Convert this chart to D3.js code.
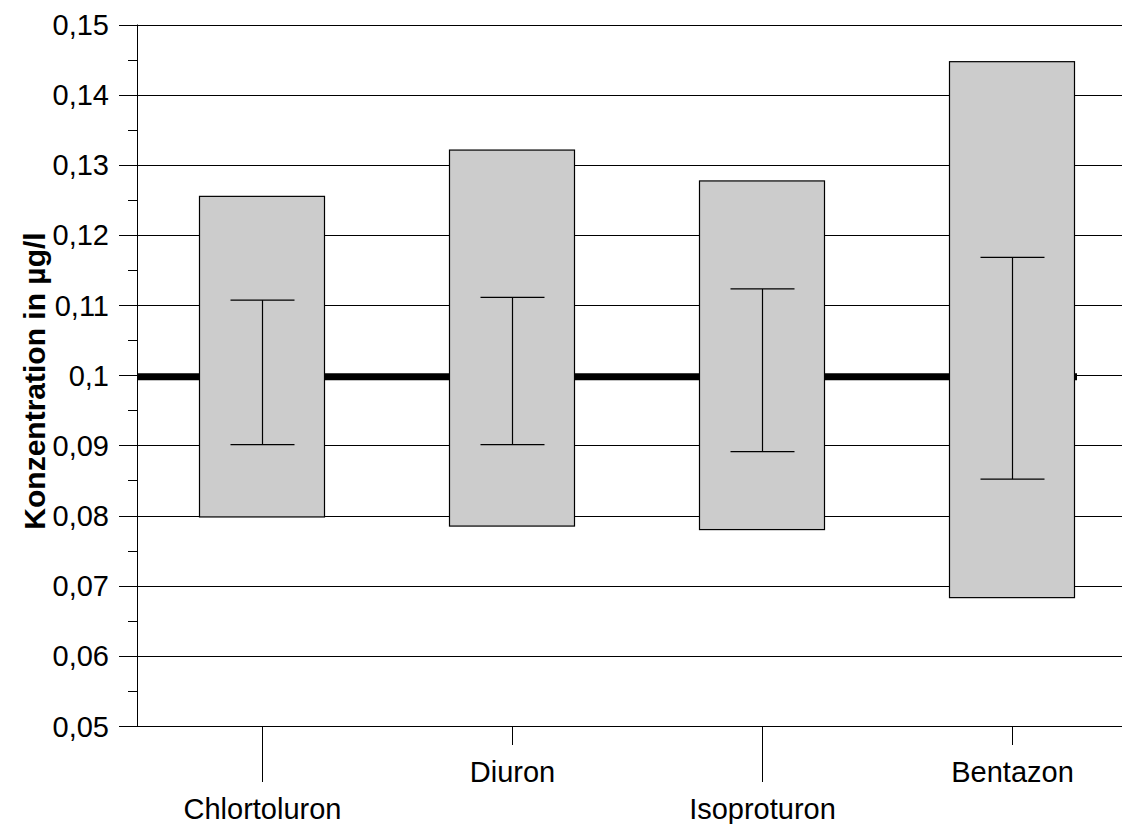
<!DOCTYPE html>
<html>
<head>
<meta charset="utf-8">
<script src="https://cdn.jsdelivr.net/npm/d3@7"></script>
<style>
  html, body { margin: 0; padding: 0; background: #fff; overflow: hidden; }
  svg { display: block; font-family: "Liberation Sans", Arial, sans-serif; }
</style>
</head>
<body>
<svg width="1122" height="824"></svg>
<script>
// Data
const categories = ["Chlortoluron", "Diuron", "Isoproturon", "Bentazon"];
const boxMax = [0.1255, 0.1321, 0.1277, 0.1447];
const boxMin = [0.0798, 0.0785, 0.0780, 0.0683];
const whiskerHigh = [0.1107, 0.1111, 0.1123, 0.1168];
const whiskerLow = [0.0901, 0.0901, 0.0891, 0.0852];
const limitValue = 0.1;
const limitSpan = [-0.5, 3.26]; // in category index units
const yTicks = [0.05, 0.06, 0.07, 0.08, 0.09, 0.1, 0.11, 0.12, 0.13, 0.14, 0.15];
const yMinorTicks = [0.055, 0.065, 0.075, 0.085, 0.095, 0.105, 0.115, 0.125, 0.135, 0.145];
const yLabel = "Konzentration in µg/l";

const svg = d3.select("svg");
const plotLeft = 137, plotRight = 1137, plotTop = 24.5, plotBottom = 726;

const de = d3.formatLocale({ decimal: ",", thousands: ".", grouping: [3], currency: ["", " €"] });
const fmt = de.format("~g");

const x = d3.scaleBand().domain(categories).range([plotLeft, plotRight]).padding(0);
const xi = d3.scaleLinear().domain([-0.5, categories.length - 0.5]).range([plotLeft, plotRight]);
const y = d3.scaleLinear().domain([0.05, 0.15]).range([plotBottom, plotTop]);

const rows = categories.map((c, i) => ({
    cat: c, i, max: boxMax[i], min: boxMin[i], hi: whiskerHigh[i], lo: whiskerLow[i]
}));

// grid lines
svg.append("g")
    .selectAll("line")
    .data(yTicks).enter().append("line")
    .attr("x1", plotLeft - 18).attr("x2", plotRight)
    .attr("y1", d => Math.round(y(d)) + 0.5).attr("y2", d => Math.round(y(d)) + 0.5)
    .attr("stroke", "#000").attr("stroke-width", 1);

// minor ticks
svg.append("g")
    .selectAll("line")
    .data(yMinorTicks).enter().append("line")
    .attr("x1", plotLeft - 9).attr("x2", plotLeft)
    .attr("y1", d => Math.round(y(d)) + 0.5).attr("y2", d => Math.round(y(d)) + 0.5)
    .attr("stroke", "#000").attr("stroke-width", 1);

// y axis line
svg.append("line")
    .attr("x1", plotLeft + 0.5).attr("x2", plotLeft + 0.5)
    .attr("y1", y(0.15)).attr("y2", y(0.05))
    .attr("stroke", "#000").attr("stroke-width", 1);

// y tick labels
svg.append("g")
    .selectAll("text")
    .data(yTicks).enter().append("text")
    .attr("x", 109)
    .attr("y", d => y(d) + 10.5)
    .attr("text-anchor", "end")
    .style("font-size", "29px")
    .text(d => fmt(d));

// y label
svg.append("text")
    .attr("transform", `translate(45, 381) rotate(-90)`)
    .attr("text-anchor", "middle")
    .style("font-size", "30px")
    .style("font-weight", "bold")
    .text(yLabel);

// limit line
svg.append("line")
    .attr("x1", xi(limitSpan[0])).attr("x2", xi(limitSpan[1]))
    .attr("y1", y(limitValue) + 1.5).attr("y2", y(limitValue) + 1.5)
    .attr("stroke", "#000").attr("stroke-width", 7);

// boxes
const bw = x.bandwidth() / 2;
svg.append("g")
    .selectAll("rect")
    .data(rows).enter().append("rect")
    .attr("x", d => Math.round(x(d.cat) + bw / 2) - 0.5)
    .attr("width", bw)
    .attr("y", d => y(d.max))
    .attr("height", d => y(d.min) - y(d.max))
    .attr("fill", "#cccccc")
    .attr("stroke", "#000")
    .attr("stroke-width", 1.2);

// whiskers
const wg = svg.append("g").attr("stroke", "#000").attr("stroke-width", 1.2);
rows.forEach(d => {
    const cx = Math.round(x(d.cat) + x.bandwidth() / 2) + 0.5;
    wg.append("line").attr("x1", cx).attr("x2", cx).attr("y1", y(d.hi)).attr("y2", y(d.lo));
    wg.append("line").attr("x1", cx - 32).attr("x2", cx + 32).attr("y1", y(d.hi)).attr("y2", y(d.hi));
    wg.append("line").attr("x1", cx - 32).attr("x2", cx + 32).attr("y1", y(d.lo)).attr("y2", y(d.lo));
});

// x category ticks and labels (staggered)
rows.forEach(d => {
    const cx = Math.round(x(d.cat) + x.bandwidth() / 2) + 0.5;
    const low = d.i % 2 === 0;
    svg.append("line")
        .attr("x1", cx).attr("x2", cx)
        .attr("y1", plotBottom).attr("y2", low ? 782 : 745)
        .attr("stroke", "#000").attr("stroke-width", 1);
    svg.append("text")
        .attr("x", cx)
        .attr("y", low ? 819 : 782)
        .attr("text-anchor", "middle")
        .style("font-size", "29px")
        .text(d.cat);
});
</script>
</body>
</html>
